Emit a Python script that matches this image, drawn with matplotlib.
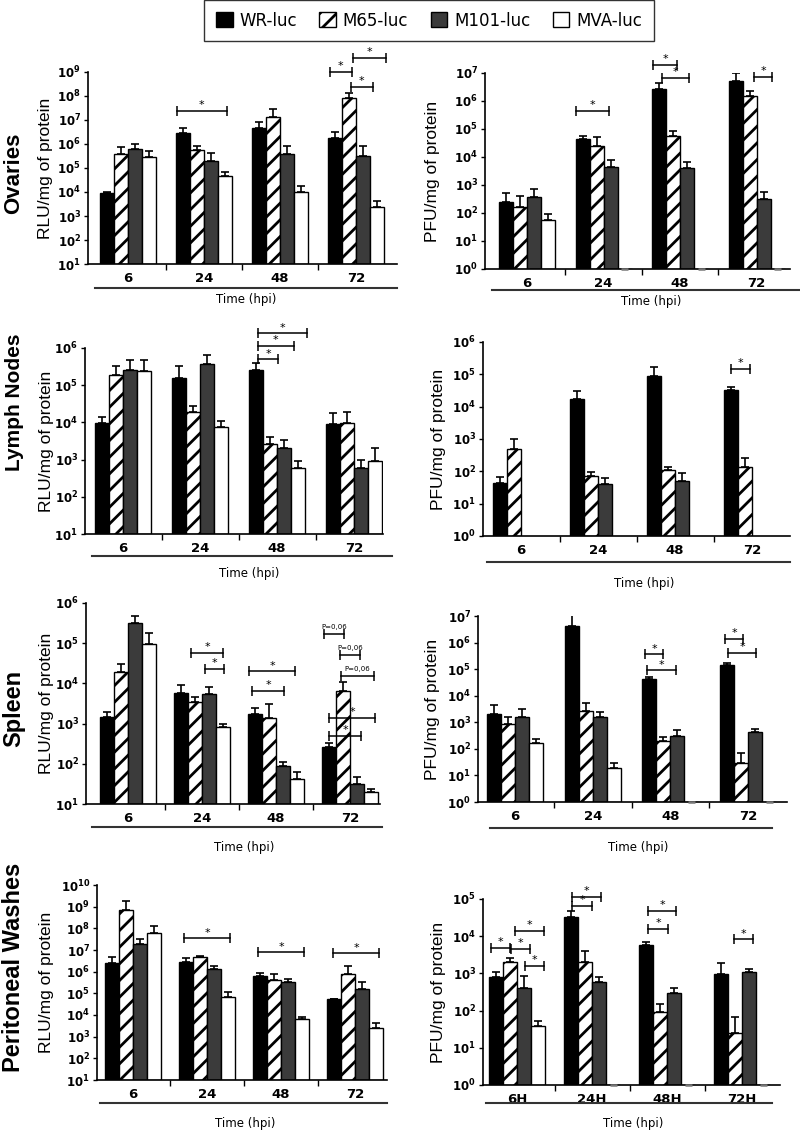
import numpy as np
import matplotlib.pyplot as plt
from matplotlib.lines import Line2D
from matplotlib.patches import Patch

plt.rcParams['hatch.linewidth'] = 2.0
plt.rcParams['font.family'] = 'DejaVu Sans'

strains = ["WR-luc", "M65-luc", "M101-luc", "MVA-luc"]
hours = ["6", "24", "48", "72"]
hours_h = ["6H", "24H", "48H", "72H"]
nan = np.nan

# values per strain (rows: WR, M65, M101, MVA; cols: 6, 24, 48, 72 hpi)
# "_top" = top of the error bar
ov_rlu = [[9.1e3, 2.9e6, 4.7e6, 1.8e6],
          [3.8e5, 5.6e5, 1.35e7, 8.3e7],
          [6.2e5, 1.95e5, 3.8e5, 3.2e5],
          [2.9e5, 4.7e4, 1.0e4, 2.4e3]]
ov_rlu_top = [[1.0e4, 4.7e6, 8.3e6, 3.2e6],
              [7.6e5, 8.3e5, 2.9e7, 1.35e8],
              [1.0e6, 4.3e5, 8.3e5, 8.3e5],
              [5.1e5, 6.8e4, 1.8e4, 4.3e3]]

ov_pfu = [[245, 4.5e4, 2.7e6, 5.1e6],
          [160, 2.45e4, 5.8e4, 1.55e6],
          [360, 4.3e3, 4.0e3, 320],
          [56, 1, 1, 1]]
ov_pfu_top = [[510, 5.6e4, 4.3e6, 1.0e7],
              [400, 5.2e4, 8.7e4, 2.3e6],
              [740, 7.9e3, 6.5e3, 575],
              [89, nan, nan, nan]]

ln_rlu = [[9.5e3, 1.55e5, 2.6e5, 9.1e3],
          [1.85e5, 1.9e4, 2.6e3, 9.5e3],
          [2.6e5, 3.7e5, 2.05e3, 590],
          [2.4e5, 7.6e3, 590, 910]]
ln_rlu_top = [[1.4e4, 3.3e5, 4.0e5, 1.8e4],
              [3.3e5, 2.75e4, 4.1e3, 1.9e4],
              [4.8e5, 6.3e5, 3.3e3, 1.0e3],
              [4.8e5, 1.1e4, 910, 2.05e3]]

ln_pfu = [[44, 1.75e4, 8.9e4, 3.3e4],
          [490, 72, 110, 138],
          [nan, 41, 50, nan],
          [nan, nan, nan, nan]]
ln_pfu_top = [[68, 3.1e4, 1.7e5, 4.1e4],
              [1000, 95, 138, 257],
              [nan, 63, 89, nan],
              [nan, nan, nan, nan]]

sp_rlu = [[1.45e3, 5.8e3, 1.74e3, 263],
          [1.9e4, 3.5e3, 1.38e3, 6.5e3],
          [3.2e5, 5.5e3, 87, 32],
          [9.5e4, 830, 42, 20]]
sp_rlu_top = [[1.95e3, 9.1e3, 2.45e3, 331],
              [3.0e4, 4.6e3, 3.1e3, 1.07e4],
              [4.8e5, 8.1e3, 110, 47],
              [1.8e5, 980, 63, 23]]

sp_pfu = [[2.0e3, 4.2e6, 4.2e4, 1.4e5],
          [850, 2.6e3, 195, 30],
          [1.6e3, 1.6e3, 300, 430],
          [166, 19, 1, 1]]
sp_pfu_top = [[4.5e3, 1.07e7, 5.0e4, 1.7e5],
              [1.6e3, 5.2e3, 275, 69],
              [3.2e3, 2.4e3, 510, 550],
              [235, 30, nan, nan]]

pw_rlu = [[2.45e6, 2.75e6, 6.2e5, 5.5e4],
          [6.8e8, 4.7e6, 4.1e5, 7.6e5],
          [1.86e7, 1.3e6, 3.2e5, 1.55e5],
          [5.9e7, 6.6e4, 6.6e3, 2.5e3]]
pw_rlu_top = [[4.7e6, 4.2e6, 9.1e5, 5.6e4],
              [1.8e9, 5.1e6, 7.6e5, 1.8e6],
              [3.2e7, 1.8e6, 4.4e5, 3.3e5],
              [1.26e8, 1.15e5, 8.3e3, 4.2e3]]

pw_pfu = [[790, 3.3e4, 5.8e3, 950],
          [2.05e3, 2.05e3, 91, 25],
          [410, 590, 295, 1.1e3],
          [39, 1, 1, 1]]
pw_pfu_top = [[1.1e3, 4.8e4, 6.9e3, 1.9e3],
              [2.6e3, 4.0e3, 151, 68],
              [850, 790, 410, 1.3e3],
              [52, nan, nan, nan]]

# significance brackets: (group, start, end in bar widths from group centre, height, label)
ov_rlu_sig = [(1, -1.93, 1.63, 2.4e7, "*"), (3, -1.85, -0.3, 1.0e9, "*"),
              (3, -0.2, 2.15, 3.8e9, "*"), (3, -0.37, 1.19, 2.4e8, "*")]
ov_pfu_sig = [(1, -1.93, 0.36, 4.4e5, "*"), (2, -1.93, -0.21, 1.95e7, "*"),
              (2, -1.29, 0.64, 6.6e6, "*"), (3, -0.21, 1.14, 7.2e6, "*")]
ln_rlu_sig = [(2, -1.36, 0.07, 5.0e5, "*"), (2, -1.36, 1.21, 1.12e6, "*"),
              (2, -1.36, 2.14, 2.5e6, "*")]
ln_pfu_sig = [(3, -1.5, -0.14, 1.48e5, "*")]
sp_rlu_sig = [(1, -0.79, 1.5, 5.8e4, "*"), (1, 0.21, 1.57, 2.3e4, "*"),
              (2, -1.93, 1.36, 2.0e4, "*"), (2, -1.71, 0.57, 6.5e3, "*"),
              (3, -1.86, -0.43, 1.7e5, "P=0,06"), (3, -0.71, 0.71, 5.1e4, "P=0,06"),
              (3, -0.64, 1.71, 1.5e4, "P=0,06"), (3, -1.5, 1.79, 1.38e3, "*"),
              (3, -1.5, 0.79, 490, "*")]
sp_pfu_sig = [(2, -1.79, -0.5, 3.6e5, "*"), (2, -1.64, 0.43, 9.1e4, "*"),
              (3, -1.64, -0.36, 1.35e6, "*"), (3, -1.43, 0.57, 4.0e5, "*")]
pw_rlu_sig = [(1, -1.64, 1.64, 3.5e7, "*"), (2, -1.64, 1.64, 7.9e6, "*"),
              (3, -1.57, 1.71, 7.1e6, "*")]
pw_pfu_sig = [(0, -1.86, -0.5, 4.8e3, "*"), (0, -0.43, 0.93, 4.6e3, "*"),
              (0, -0.14, 1.93, 1.38e4, "*"), (0, 0.57, 1.93, 1.58e3, "*"),
              (1, -1.43, 0.0, 6.5e4, "*"), (1, -1.43, 0.64, 1.12e5, "*"),
              (2, -1.36, 0.07, 1.55e4, "*"), (2, -1.36, 0.64, 4.8e4, "*"),
              (3, -0.57, 0.79, 8.3e3, "*")]

rows = [("Ovaries", 173, 16), ("Lymph Nodes", 402, 15),
        ("Spleen", 708, 17), ("Peritoneal Washes", 967, 17)]

W, H = 800, 1130
colors = ["black", "white", "#3b3b3b", "white"]
hatches = [None, "//", None, None]

# layout in pixels: axes left/right/top/bottom, first group centre, group spacing,
# ylabel x, underline (y, x0, x1), time label (x, y)
panels = [
    dict(vals=ov_rlu, tops=ov_rlu_top, sig=ov_rlu_sig, lab=hours, ylab="RLU/mg of protein",
         ex=(1, 9), box=(88, 397, 72, 264), c0=128, sp=76, ylx=46,
         line=(288, 95, 397), tl=(246, 299)),
    dict(vals=ov_pfu, tops=ov_pfu_top, sig=ov_pfu_sig, lab=hours, ylab="PFU/mg of protein",
         ex=(0, 7), box=(485, 790, 73, 269), c0=527, sp=76.5, ylx=433,
         line=(290, 492, 800), tl=(651, 302)),
    dict(vals=ln_rlu, tops=ln_rlu_top, sig=ln_rlu_sig, lab=hours, ylab="RLU/mg of protein",
         ex=(1, 6), box=(85, 383, 348, 534), c0=123, sp=77, ylx=47,
         line=(556, 92, 392), tl=(249, 573)),
    dict(vals=ln_pfu, tops=ln_pfu_top, sig=ln_pfu_sig, lab=hours, ylab="PFU/mg of protein",
         ex=(0, 6), box=(483, 790, 342, 536), c0=521, sp=77, ylx=438,
         line=(562, 487, 790), tl=(644, 583)),
    dict(vals=sp_rlu, tops=sp_rlu_top, sig=sp_rlu_sig, lab=hours, ylab="RLU/mg of protein",
         ex=(1, 6), box=(86, 380, 603, 804), c0=128, sp=74, ylx=47,
         line=(827, 92, 382), tl=(244, 847)),
    dict(vals=sp_pfu, tops=sp_pfu_top, sig=sp_pfu_sig, lab=hours, ylab="PFU/mg of protein",
         ex=(0, 7), box=(478, 787, 616, 802), c0=515, sp=77.7, ylx=433,
         line=(828, 490, 772), tl=(638, 847)),
    dict(vals=pw_rlu, tops=pw_rlu_top, sig=pw_rlu_sig, lab=hours, ylab="RLU/mg of protein",
         ex=(1, 10), box=(97, 387, 885, 1080), c0=133, sp=74, ylx=47,
         line=(1103, 100, 387), tl=(245, 1123)),
    dict(vals=pw_pfu, tops=pw_pfu_top, sig=pw_pfu_sig, lab=hours_h, ylab="PFU/mg of protein",
         ex=(0, 5), box=(483, 780, 899, 1085), c0=517, sp=75, ylx=439,
         line=(1103, 486, 772), tl=(633, 1124)),
]

fig = plt.figure(figsize=(8, 11.3), dpi=100)

for p in panels:
    x0, x1, yt, yb = p["box"]
    ax = fig.add_axes([x0 / W, 1 - yb / H, (x1 - x0) / W, (yb - yt) / H])
    w = 14.0 / p["sp"]
    lo, hi = p["ex"]
    base = 10.0 ** lo
    ax.set_yscale("log")
    ax.set_xlim((x0 - p["c0"]) / p["sp"], (x1 - p["c0"]) / p["sp"])
    ax.set_ylim(base, 10.0 ** hi)
    groups = np.arange(4)
    for k in range(4):
        v = np.array(p["vals"][k], dtype=float)
        t = np.array(p["tops"][k], dtype=float)
        xs = groups + (k - 1.5) * w
        ok = ~np.isnan(v)
        ax.bar(xs[ok], v[ok] - base, bottom=base, width=w, color=colors[k],
               edgecolor="black", linewidth=1.0, hatch=hatches[k], zorder=2)
        # zero-height bars show as a short stroke on the baseline
        for xz in xs[ok & (v <= base)]:
            ax.plot([xz - w / 4, xz + w / 4], [base, base], color="#777777",
                    lw=1.8, clip_on=False, zorder=3, solid_capstyle="butt")
        ek = ok & ~np.isnan(t)
        ax.errorbar(xs[ek], v[ek], yerr=[np.zeros(ek.sum()), t[ek] - v[ek]],
                    fmt="none", ecolor="black", elinewidth=1.2, capsize=3,
                    capthick=1.2, zorder=1)
    for g, a, b, yv, lab in p["sig"]:
        bx0, bx1 = g + a * w, g + b * w
        ax.plot([bx0, bx1], [yv, yv], color="black", lw=1.1, marker="|",
                ms=7, mew=1.1, clip_on=False, zorder=3)
        if lab == "*":
            ax.annotate("*", ((bx0 + bx1) / 2, yv), xytext=(0, 0.5),
                        textcoords="offset points", ha="center", va="bottom",
                        fontsize=8, annotation_clip=False)
        else:
            ax.annotate(lab, ((bx0 + bx1) / 2, yv), xytext=(0, 3),
                        textcoords="offset points", ha="center", va="bottom",
                        fontsize=5, annotation_clip=False)
    ticks = [10.0 ** e for e in range(lo, hi + 1)]
    ax.set_yticks(ticks)
    ax.set_yticklabels([r"$\mathbf{10^{%d}}$" % e for e in range(lo, hi + 1)],
                       fontsize=8.5)
    ax.yaxis.set_minor_locator(plt.NullLocator())
    ax.tick_params(axis="y", length=3, width=1, pad=2)
    ax.set_xticks(groups)
    ax.set_xticklabels(p["lab"], fontsize=9.5, fontweight="bold")
    ax.set_xticks([0.5, 1.5, 2.5], minor=True)
    ax.tick_params(axis="x", which="major", length=0, pad=6)
    ax.tick_params(axis="x", which="minor", length=4, width=1)
    for s in ["top", "right"]:
        ax.spines[s].set_visible(False)
    for s in ["left", "bottom"]:
        ax.spines[s].set_linewidth(1.2)
    fig.text(p["ylx"] / W, 1 - (yt + yb) / 2 / H, p["ylab"], rotation=90,
             ha="center", va="center", fontsize=12.5, family="Liberation Sans")
    ly, lx0, lx1 = p["line"]
    fig.add_artist(Line2D([lx0 / W, lx1 / W], [1 - ly / H, 1 - ly / H],
                          transform=fig.transFigure, color="#333333", lw=1.5))
    fig.text(p["tl"][0] / W, 1 - p["tl"][1] / H, "Time (hpi)", ha="center",
             va="center", fontsize=8.5)

for name, yc, fs in rows:
    fig.text(14 / W, 1 - yc / H, name, rotation=90, ha="center", va="center",
             fontsize=fs, fontweight="bold", family="Liberation Sans")

handles = [Patch(facecolor=colors[k], edgecolor="black", hatch=hatches[k])
           for k in range(4)]
leg = fig.legend(handles, strains, loc="upper center", bbox_to_anchor=(429 / W, 1.0),
                 ncol=4, frameon=True, fancybox=False, edgecolor="black",
                 fontsize=12, handlelength=1.0, handleheight=1.0,
                 columnspacing=1.35, handletextpad=0.4, borderpad=0.7,
                 borderaxespad=0)
leg.get_frame().set_linewidth(1.0)

fig.savefig("out.png", dpi=100)
